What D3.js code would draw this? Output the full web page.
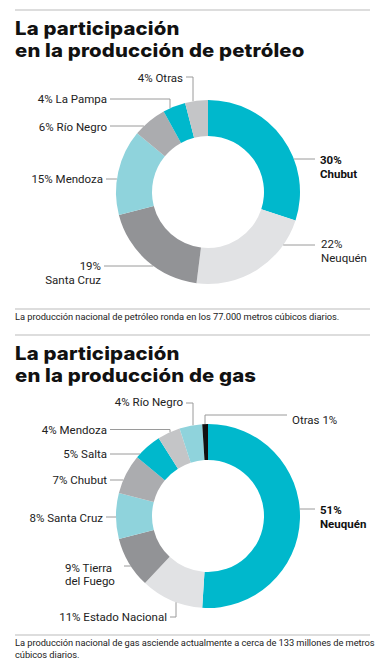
<!DOCTYPE html>
<html><head><meta charset="utf-8">
<script src="https://cdn.jsdelivr.net/npm/d3@7"></script>
<style>body{margin:0;background:#fff}svg{display:block}</style>
</head><body>
<svg id="c" width="378" height="663"></svg>
<script>
// ---- data ----
const oilNames  = ["Chubut","Neuquén","Santa Cruz","Mendoza","Río Negro","La Pampa","Otras"];
const oilValues = [30,22,19,15,6,4,4];
const oilColors = ["#00b8cc","#e1e2e4","#929396","#8fd3dc","#abacaf","#00b8cc","#c4c5c7"];

const gasNames  = ["Neuquén","Estado Nacional","Tierra del Fuego","Santa Cruz","Chubut","Salta","Mendoza","Río Negro","Otras"];
const gasValues = [51,11,9,8,7,5,4,4,1];
const gasColors = ["#00b8cc","#e1e2e4","#929396","#8fd3dc","#abacaf","#00b8cc","#c4c5c7","#8fd3dc","#111111"];

const titles = [["La participación","en la producción de petróleo"],["La participación","en la producción de gas"]];
const captions = [["La producción nacional de petróleo ronda en los 77.000 metros cúbicos diarios."],
                  ["La producción nacional de gas asciende actualmente a cerca de 133 millones de metros","cúbicos diarios."]];

const svg = d3.select("#c");
const R = 92, r0 = 56;
const FONT = "Roboto, 'Liberation Sans', sans-serif";
const TFONT = "Inter, Roboto, sans-serif";

function rule(y){
  svg.append("line").attr("x1",15).attr("x2",370).attr("y1",y).attr("y2",y)
    .attr("stroke","#d2d2d2").attr("stroke-width",1.6);
}
function title(lines, y0){
  lines.forEach((t,k)=>svg.append("text")
    .attr("transform",`translate(15,${y0+k*22.6}) scale(1.1,1)`)
    .attr("font-family",TFONT).attr("font-weight",800).attr("font-size",18.5)
    .attr("letter-spacing",0.15).attr("fill","#111").text(t));
}
function caption(lines, y0){
  lines.forEach((t,k)=>svg.append("text").attr("x",15).attr("y",y0+k*11.5)
    .attr("font-family",FONT).attr("font-size",9.3).attr("letter-spacing",-0.05)
    .attr("fill","#222").text(t));
}

function donut(names, values, colors, cx, cy, layout){
  const g = svg.append("g").attr("transform",`translate(${cx},${cy})`);
  const pie = d3.pie().sort(null).value(d=>d)(values);
  const arc = d3.arc().innerRadius(r0).outerRadius(R);
  g.selectAll("path").data(pie).join("path").attr("d",arc).attr("fill",(d,i)=>colors[i]);

  const ln = svg.append("g").attr("stroke","#9a9a9a").attr("stroke-width",1).attr("fill","none");
  const tx = svg.append("g").attr("font-family",FONT).attr("font-size",11.5).attr("fill","#222");
  const circX = (y, side)=> cx + side*Math.sqrt(Math.max(0,R*R-(y-cy)*(y-cy)));
  const circY = (x, side)=> cy + side*Math.sqrt(Math.max(0,R*R-(x-cx)*(x-cx)));

  layout.forEach(L=>{
    const v = values[L.i], n = names[L.i];
    const lines = L.lines(v,n);
    const t = tx.append("text").attr("text-anchor",L.anchor||"end")
      .attr("font-weight",L.bold?700:400).attr("fill",L.bold?"#111":"#222");
    lines.forEach((s,k)=>t.append("tspan").attr("x",L.tx).attr("y",L.ty+k*13.5).text(s));
    let pts;
    if(L.kind==="hl") pts=[[L.lx,L.ly],[circX(L.ly,-1),L.ly]];
    else if(L.kind==="hr") pts=[[circX(L.ly,1),L.ly],[L.lx,L.ly]];
    else if(L.kind==="el") pts=[[L.lx,L.ly],[L.ex,L.ly],[L.ex,circY(L.ex,-1)]];
    else if(L.kind==="er") pts=[[L.ex,circY(L.ex,-1)],[L.ex,L.ly],[L.lx,L.ly]];
    else if(L.kind==="eb") pts=[[L.lx,L.ly],[L.ex,L.ly],[L.ex,circY(L.ex,1)]];
    ln.append("path").attr("d",d3.line()(pts));
  });
}

const two = (v,n)=>[`${v}%`,n];
const one = (v,n)=>[`${v}% ${n}`];

// ---- petróleo ----
rule(10);
title(titles[0], 34.5);
donut(oilNames, oilValues, oilColors, 208, 192, [
  {i:0,kind:"hr",tx:320,ty:164,ly:159,lx:315,anchor:"start",bold:true,lines:two},
  {i:1,kind:"hr",tx:321,ty:248,ly:245,lx:315,anchor:"start",lines:two},
  {i:2,kind:"hl",tx:101,ty:270,ly:266,lx:104,lines:two},
  {i:3,kind:"hl",tx:103,ty:183,ly:179,lx:106,lines:one},
  {i:4,kind:"hl",tx:107,ty:130.5,ly:126,lx:110,lines:one},
  {i:5,kind:"el",tx:107,ty:103,ly:99,lx:110,ex:170,lines:one},
  {i:6,kind:"el",tx:183,ty:81.5,ly:77,lx:186,ex:193,lines:one}
]);
rule(309);
caption(captions[0], 319.5);
rule(335);

// ---- gas ----
title(titles[1], 359.5);
donut(gasNames, gasValues, gasColors, 208, 516, [
  {i:0,kind:"hr",tx:320,ty:514,ly:509,lx:315,anchor:"start",bold:true,lines:two},
  {i:1,kind:"eb",tx:167,ty:621,ly:617,lx:170,ex:176,lines:one},
  {i:2,kind:"hl",tx:65,ty:571.5,ly:566,lx:124,anchor:"start",lines:(v,n)=>[`${v}% ${n.split(" ")[0]}`, n.split(" ").slice(1).join(" ")]},
  {i:3,kind:"hl",tx:103,ty:521.5,ly:517,lx:106,lines:one},
  {i:4,kind:"hl",tx:107,ty:484,ly:480,lx:110,lines:one},
  {i:5,kind:"hl",tx:107,ty:457.5,ly:454,lx:110,lines:one},
  {i:6,kind:"el",tx:107,ty:434,ly:429.5,lx:110,ex:170,lines:one},
  {i:7,kind:"el",tx:183,ty:406,ly:403,lx:186,ex:193,lines:one},
  {i:8,kind:"er",tx:292,ty:424,ly:415,lx:287,ex:205,anchor:"start",lines:(v,n)=>[`${n} ${v}%`]}
]);
rule(635);
caption(captions[1], 646);
</script>
</body></html>
